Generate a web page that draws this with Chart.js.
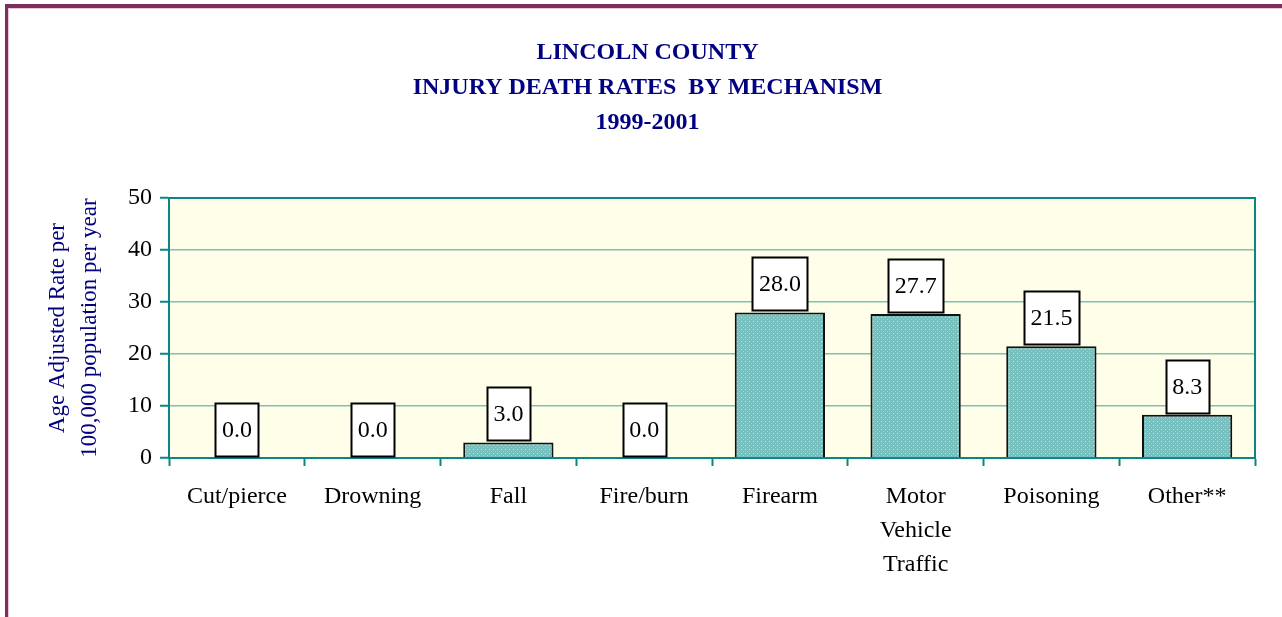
<!DOCTYPE html>
<html>
<head>
<meta charset="utf-8">
<title>Lincoln County Injury Death Rates by Mechanism</title>
<script src="https://cdn.jsdelivr.net/npm/chart.js@4"></script>
<style>
  html, body { margin: 0; padding: 0; background: #fff; overflow: hidden; }
  #frame {
    position: absolute; left: 5px; top: 4px; width: 1300px; height: 640px;
    border-left: 3px solid #7d2f5c; border-top: 4px solid #7d2f5c;
    box-shadow: inset 1px 1px 0 #e8c8d8;
  }
  #wrap { position: absolute; left: 0; top: 0; width: 1282px; height: 617px; }
</style>
</head>
<body>
<div id="frame"></div>
<div id="wrap"><canvas id="chartMechanism" width="1282" height="617"></canvas></div>
<script>
// Age adjusted injury death rates per 100,000, 1999-2001
const categories = [
  'Cut/pierce', 'Drowning', 'Fall', 'Fire/burn', 'Firearm',
  ['Motor', 'Vehicle', 'Traffic'], 'Poisoning', 'Other**',
];
const rates = [0.0, 0.0, 3.0, 0.0, 28.0, 27.7, 21.5, 8.3];
const yTicks = [0, 10, 20, 30, 40, 50];
const titleLines = ['LINCOLN COUNTY', 'INJURY DEATH RATES  BY MECHANISM', '1999-2001'];
const yTitleLines = ['Age Adjusted Rate per', '100,000 population per year'];

const SERIF = '"Liberation Serif", "Times New Roman", serif';
const NAVY = '#000080';
const TEAL = '#0b8585';
const GRID = '#7cc1b6';

// dotted teal fill for the bars
function barPattern() {
  const c = document.createElement('canvas');
  c.width = 4; c.height = 4;
  const g = c.getContext('2d');
  g.fillStyle = '#76c0bf';
  g.fillRect(0, 0, 4, 4);
  g.fillStyle = '#bfe5e3';
  g.fillRect(1, 1, 1, 1);
  g.fillStyle = '#98d2d0';
  g.fillRect(3, 3, 1, 1);
  return g.createPattern(c, 'repeat');
}

// pale plot background with a teal frame
const plotArea = {
  id: 'plotArea',
  beforeDraw(chart) {
    const { ctx, chartArea: a } = chart;
    ctx.save();
    ctx.fillStyle = '#fefee9';
    ctx.fillRect(a.left, a.top, a.right - a.left, a.bottom - a.top);
    ctx.restore();
  },
  afterDatasetsDraw(chart) {
    const { ctx, chartArea: a } = chart;
    ctx.save();
    ctx.strokeStyle = TEAL;
    ctx.lineWidth = 2;
    ctx.beginPath();
    ctx.moveTo(a.left, a.top);
    ctx.lineTo(a.right, a.top);
    ctx.lineTo(a.right, a.bottom);
    ctx.stroke();
    ctx.restore();
  },
};

// boxed value labels sitting on top of each bar
const valueBoxes = {
  id: 'valueBoxes',
  afterDatasetsDraw(chart) {
    const { ctx } = chart;
    const meta = chart.getDatasetMeta(0);
    ctx.save();
    ctx.font = '24px ' + SERIF;
    ctx.textAlign = 'center';
    ctx.textBaseline = 'middle';
    meta.data.forEach((bar, i) => {
      const text = rates[i].toFixed(1);
      const w = Math.round(ctx.measureText(text).width + 13);
      const h = 53;
      const bottom = Math.min(bar.y, chart.chartArea.bottom) - 2;
      const left = Math.round(bar.x - w / 2) + 0.5;
      const top = Math.round(bottom - h) + 0.5;
      ctx.fillStyle = '#fff';
      ctx.fillRect(left, top, w, h);
      ctx.strokeStyle = '#000';
      ctx.lineWidth = 2;
      ctx.strokeRect(left, top, w, h);
      ctx.fillStyle = '#000';
      ctx.fillText(text, bar.x, top + h / 2 + 1);
    });
    ctx.restore();
  },
};

new Chart(document.getElementById('chartMechanism'), {
  type: 'bar',
  data: {
    labels: categories,
    datasets: [{
      data: rates,
      backgroundColor: barPattern(),
      borderColor: '#111',
      borderWidth: 2,
      borderSkipped: 'bottom',
      categoryPercentage: 1,
      barPercentage: 0.665,
    }],
  },
  options: {
    responsive: false,
    animation: false,
    layout: { padding: { left: 40, right: 27, top: 0, bottom: 0 } },
    plugins: {
      legend: { display: false },
      tooltip: { enabled: false },
      title: {
        display: true,
        text: titleLines,
        color: NAVY,
        font: { family: SERIF, size: 24, weight: 'bold', lineHeight: 1.46 },
        padding: { top: 35, bottom: 58 },
      },
    },
    scales: {
      x: {
        offset: true,
        grid: {
          offset: true,
          drawOnChartArea: false,
          drawTicks: true,
          tickLength: 8,
          tickColor: TEAL,
          tickWidth: 2,
        },
        border: { color: TEAL, width: 2 },
        ticks: {
          color: '#000',
          font: { family: SERIF, size: 24, lineHeight: 1.42 },
          padding: 14,
          maxRotation: 0,
          autoSkip: false,
        },
        afterFit(scale) { scale.height = 159; },
      },
      y: {
        min: 0,
        max: 50,
        afterBuildTicks(scale) { scale.ticks = yTicks.map((v) => ({ value: v })); },
        grid: {
          color: GRID,
          lineWidth: 1.5,
          tickColor: TEAL,
          tickWidth: 2,
          tickLength: 9,
        },
        border: { color: TEAL, width: 2 },
        ticks: {
          color: '#000',
          font: { family: SERIF, size: 24 },
          padding: 8,
        },
        title: {
          display: true,
          text: yTitleLines,
          color: NAVY,
          font: { family: SERIF, size: 23, lineHeight: 1.4 },
          padding: { top: 2, bottom: 0 },
        },
        afterFit(scale) { scale.width = 129; },
      },
    },
  },
  plugins: [plotArea, valueBoxes],
});
</script>
</body>
</html>
